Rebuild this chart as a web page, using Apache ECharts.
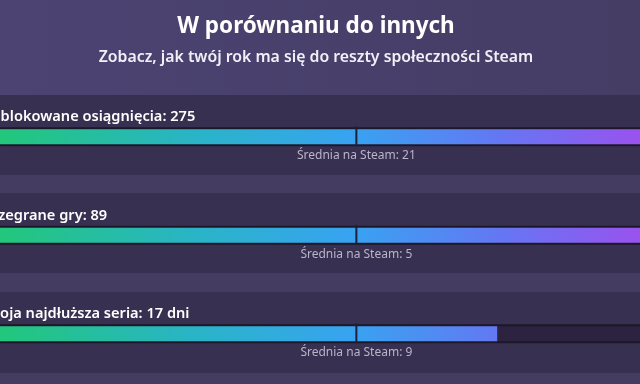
<!DOCTYPE html>
<html>
<head>
<meta charset="utf-8">
<script src="https://cdn.jsdelivr.net/npm/echarts@6/dist/echarts.min.js"></script>
<style>
  html, body { margin: 0; padding: 0; background: #383050; }
  #main { width: 640px; height: 384px; }
</style>
</head>
<body>
<div id="main"></div>
<script>
// dane
var names = ['Odblokowane osiągnięcia', 'Rozegrane gry', 'Twoja najdłuższa seria'];
var values = [275, 89, 17];
var units = ['', '', ' dni'];
var averages = [21, 5, 9];
var avgLabel = 'Średnia na Steam: ';

var chart = echarts.init(document.getElementById('main'));

// gradient paska liczony dla całej szerokości ścieżki
var barGrad = new echarts.graphic.LinearGradient(0, 0, 640, 0, [
	{ offset: 0, color: '#22c77b' },
	{ offset: 0.3, color: '#29b4c6' },
	{ offset: 0.55, color: '#38a3f1' },
	{ offset: 0.78, color: '#6477f3' },
	{ offset: 1, color: '#9a52ef' }
], true);

var rowY = [136.5, 235.5, 334];

var bgRects = [
	{ type: 'rect', z: 0, shape: { x: 0, y: 0, width: 640, height: 95 },
		style: { fill: new echarts.graphic.LinearGradient(0, 0, 1, 0, [
			{ offset: 0, color: '#4c4373' }, { offset: 1, color: '#453d64' }]) } },
	{ type: 'rect', z: 0, shape: { x: 0, y: 175, width: 640, height: 18 }, style: { fill: '#453c61' } },
	{ type: 'rect', z: 0, shape: { x: 0, y: 273, width: 640, height: 19 }, style: { fill: '#453c61' } },
	{ type: 'rect', z: 0, shape: { x: 0, y: 373, width: 640, height: 11 }, style: { fill: '#453c61' } }
];

var texts = [
	{ type: 'text', z: 10, x: 316, y: 27,
		style: { text: 'W porównaniu do innych', textAlign: 'center', textVerticalAlign: 'middle',
			fill: '#ffffff', font: 'bold 22.5px "Noto Sans"' } },
	{ type: 'text', z: 10, x: 316, y: 57,
		style: { text: 'Zobacz, jak twój rok ma się do reszty społeczności Steam', textAlign: 'center',
			textVerticalAlign: 'middle', fill: '#f1eff7', font: '600 15.8px "Noto Sans"' } }
];
for (var i = 0; i < names.length; i++) {
	texts.push({ type: 'text', z: 10, x: -20, y: rowY[i] - 20,
		style: { text: names[i] + ': ' + values[i] + units[i], textAlign: 'left', textVerticalAlign: 'middle',
			fill: '#ffffff', font: '600 14.6px "Noto Sans"' } });
}

var seriesData = [];
for (var i = 0; i < values.length; i++) {
	seriesData.push([values[i], i, averages[i]]);
}

var option = {
	backgroundColor: '#383050',
	animation: false,
	graphic: bgRects.concat(texts),
	grid: { left: 0, right: 0, top: 87.5, height: 295.5 },
	xAxis: { type: 'log', min: 0.2, max: 3.6, show: false },
	yAxis: { type: 'category', data: [0, 1, 2], inverse: true, show: false },
	series: [{
		type: 'custom',
		data: seriesData,
		renderItem: function (params, api) {
			var idx = api.value(1);
			var cs = params.coordSys;
			var y = api.coord([1, idx])[1];
			var h = 15;
			var x0 = cs.x, w = cs.width;
			var xEnd = Math.min(api.coord([api.value(0) / api.value(2), idx])[0], x0 + w);
			var xAvg = api.coord([1, idx])[0];
			return {
				type: 'group',
				children: [
					{ type: 'rect', shape: { x: x0, y: y - h / 2 - 2, width: w, height: h + 4 }, style: { fill: '#1c1729' } },
					{ type: 'rect', shape: { x: x0, y: y - h / 2, width: w, height: h }, style: { fill: '#2b2340' } },
					{ type: 'rect', shape: { x: x0, y: y - h / 2, width: xEnd - x0, height: h }, style: { fill: barGrad } },
					{ type: 'rect', shape: { x: xAvg - 1, y: y - h / 2 - 3, width: 2, height: h + 5 }, style: { fill: '#1d2036' } },
					{ type: 'text', x: xAvg, y: y + 19,
						style: { text: avgLabel + api.value(2), textAlign: 'center', textVerticalAlign: 'middle',
							fill: '#b9b4c9', font: '12px "Noto Sans"' } }
				]
			};
		}
	}]
};
chart.setOption(option);
</script>
</body>
</html>
